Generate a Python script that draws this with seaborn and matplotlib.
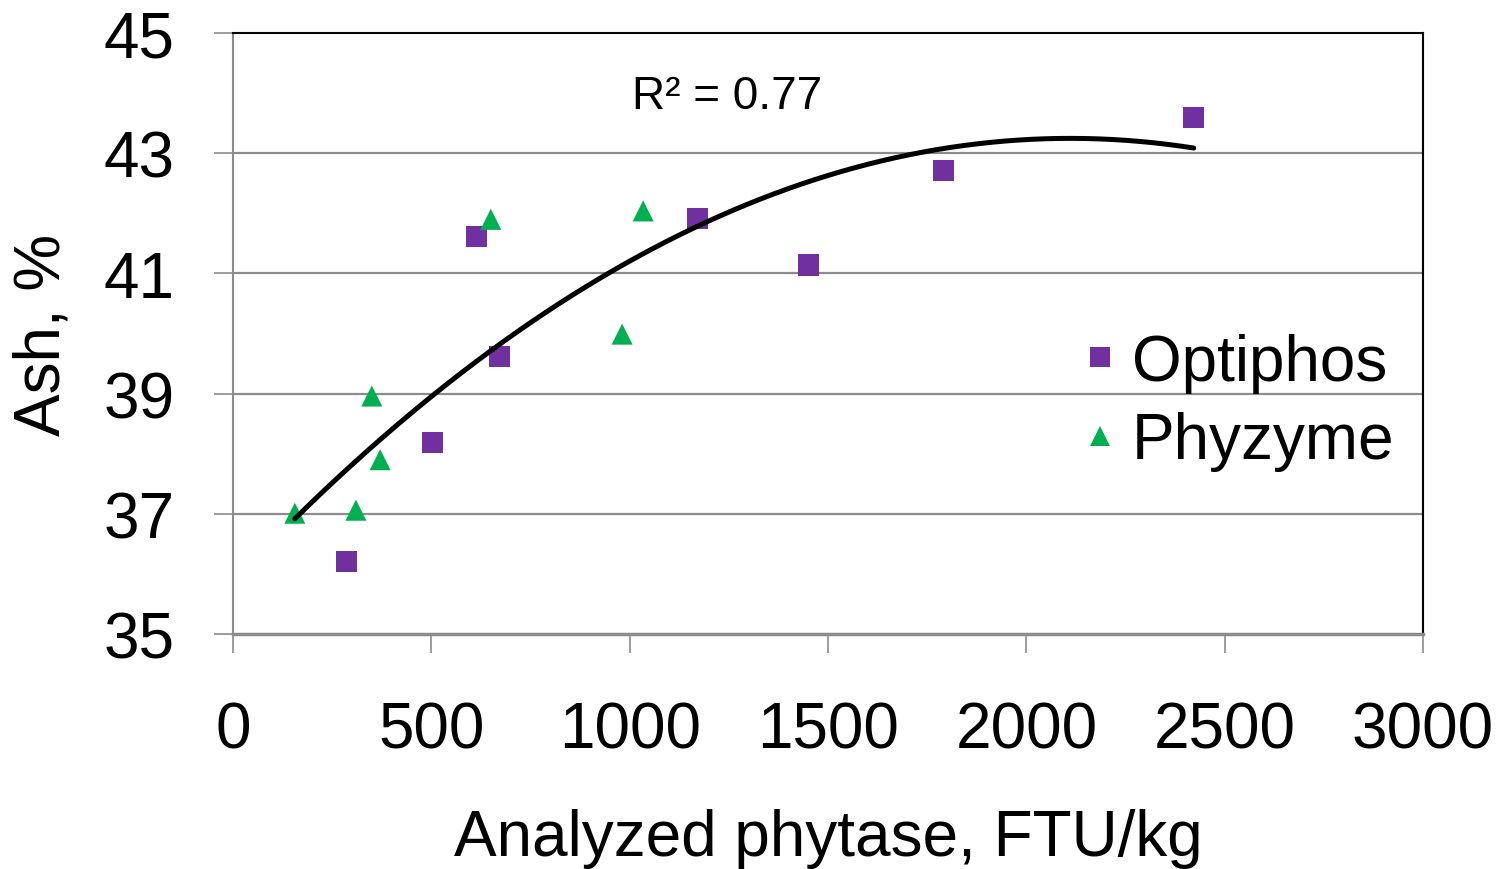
import numpy as np
import pandas as pd
import matplotlib
matplotlib.use("Agg")
import matplotlib.pyplot as plt
import seaborn as sns

# Data
opt_x = [287, 502, 615, 671, 1170, 1452, 1792, 2422]
opt_y = [36.21, 38.19, 41.61, 39.61, 41.92, 41.14, 42.72, 43.59]
phy_x = [156, 310, 350, 371, 650, 981, 1034]
phy_y = [37.01, 37.06, 38.96, 37.90, 41.90, 39.99, 42.04]
x_ticks = [0, 500, 1000, 1500, 2000, 2500, 3000]
y_ticks = [35, 37, 39, 41, 43, 45]

df = pd.DataFrame({
    "x": opt_x + phy_x,
    "y": opt_y + phy_y,
    "Series": ["Optiphos"] * len(opt_x) + ["Phyzyme"] * len(phy_x),
})

sns.set_style("white")
plt.rcParams["font.family"] = ["Liberation Sans", "DejaVu Sans"]
plt.rcParams["text.color"] = "black"
plt.rcParams["xtick.labelcolor"] = "black"
plt.rcParams["ytick.labelcolor"] = "black"
plt.rcParams["axes.labelcolor"] = "black"

fig = plt.figure(figsize=(15, 8.7), dpi=100)
ax = fig.add_axes([0.1553, 0.2701, 0.7934, 0.6908])

for y in y_ticks[1:-1]:
    ax.axhline(y, color="#8c8c8c", lw=1.6, zorder=0)

sns.scatterplot(data=df, x="x", y="y", hue="Series", style="Series",
                palette={"Optiphos": "#7030a0", "Phyzyme": "#00b050"},
                markers={"Optiphos": "s", "Phyzyme": "^"},
                s=230, linewidth=0, ax=ax, zorder=3, legend=True)

# quadratic trend line fitted to all points
coef = np.polyfit(df["x"], df["y"], 2)
xs = np.linspace(min(df["x"]), max(df["x"]), 200)
ax.plot(xs, np.polyval(coef, xs), color="black", lw=3.6, zorder=4)

ax.text(1245, 43.95, "R² = 0.77", fontsize=33, ha="center", va="center")

ax.set_xlim(0, 3000)
ax.set_ylim(35, 45)
ax.set_xticks(x_ticks)
ax.set_yticks(y_ticks)
ax.tick_params(axis="both", which="major", labelsize=46, direction="out",
               length=14, width=1.2, color="#8c8c8c", left=True, bottom=True)
ax.tick_params(axis="x", pad=34)
ax.tick_params(axis="y", pad=28)
ax.set_xlabel("Analyzed phytase, FTU/kg", fontsize=46, labelpad=34)
ax.set_ylabel("Ash, %", fontsize=46, labelpad=22)

for side in ["top", "right"]:
    ax.spines[side].set_visible(True)
    ax.spines[side].set_color("black")
    ax.spines[side].set_linewidth(1.5)
ax.spines["left"].set_color("#8c8c8c")
ax.spines["left"].set_linewidth(1.5)
ax.spines["bottom"].set_color("#8c8c8c")
ax.spines["bottom"].set_linewidth(2.5)

leg = ax.legend(loc="center left", bbox_to_anchor=(0.7017, 0.386), frameon=False,
                fontsize=46, handlelength=1.0, handletextpad=0.0, labelspacing=0.29,
                borderpad=0, borderaxespad=0)
for h in leg.legend_handles:
    h.set_markersize(15)

fig.savefig("out.png", dpi=100)
